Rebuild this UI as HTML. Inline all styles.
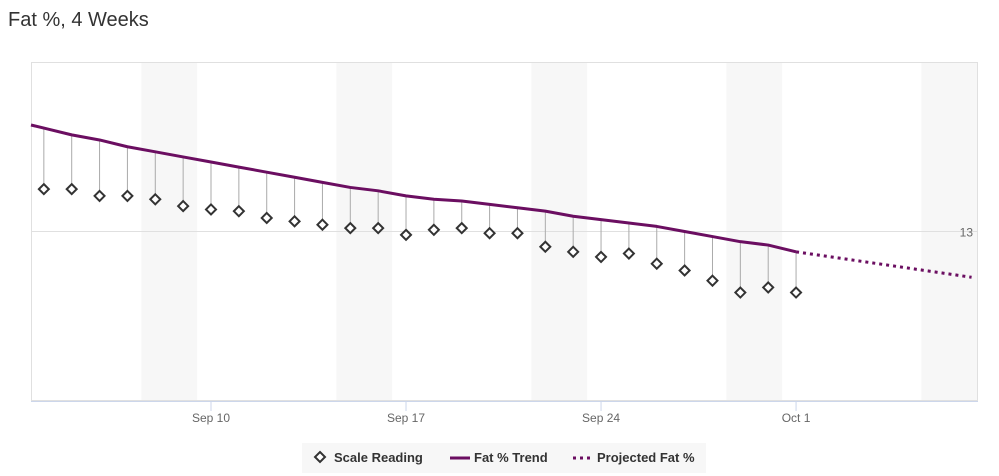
<!DOCTYPE html>
<html><head><meta charset="utf-8">
<style>
body{margin:0;background:#fff;font-family:"Liberation Sans",sans-serif;}
#wrap{position:relative;width:999px;height:476px;overflow:hidden;}
</style></head>
<body>
<div id="wrap">
<svg id="chart" width="999" height="476" xmlns="http://www.w3.org/2000/svg">
<text x="8" y="26" font-size="20" fill="#333" font-family="Liberation Sans, sans-serif">Fat %, 4 Weeks</text>
</svg>
</div>
<script>
const readingDays = [4,5,6,7,8,9,10,11,12,13,14,15,16,17,18,19,20,21,22,23,24,25,26,27,28,29,30,31];
const readingValues = [13.25,13.25,13.21,13.21,13.19,13.15,13.13,13.12,13.08,13.06,13.04,13.02,13.02,12.98,13.01,13.02,12.99,12.99,12.91,12.88,12.85,12.87,12.81,12.77,12.71,12.64,12.67,12.64];
const trendValues = [13.61,13.57,13.54,13.50,13.47,13.44,13.41,13.38,13.35,13.32,13.29,13.26,13.24,13.21,13.19,13.18,13.16,13.14,13.12,13.09,13.07,13.05,13.03,13.00,12.97,12.94,12.92,12.88];
const projDays = [31,37.3];
const projValues = [12.88,12.73];
const tickDays = [10,17,24,31];
const tickLabels = ["Sep 10","Sep 17","Sep 24","Oct 1"];
const bandStarts = [7.5,14.5,21.5,28.5,35.5];
const yTicks = [13];

const L=31,R=978,T=62,B=401;
const dayPx=27.86;
function xs(d){return 211+(d-10)*dayPx;}
function ys(v){return B-(v-12)/2*(B-T);}
const svg=document.getElementById('chart');
const NS='http://www.w3.org/2000/svg';
function mk(tag,attrs,name){const e=document.createElementNS(NS,tag);for(const k in attrs)e.setAttribute(k,attrs[k]);


svg.appendChild(e);return e;}
// bands
bandStarts.forEach(s=>{const x0=Math.max(L,xs(s)),x1=Math.min(R,xs(s+2));mk('rect',{x:x0,y:T,width:x1-x0,height:B-T,fill:'#f7f7f7'},'weekend-band');});
mk('rect',{x:L+0.5,y:T+0.5,width:R-L-1,height:B-T-1,fill:'none',stroke:'#e0e0e0'},'plot-border');
yTicks.forEach(v=>{mk('line',{x1:L,x2:R,y1:ys(v),y2:ys(v),stroke:'#e0e0e0'},'y-gridline');
const t=mk('text',{x:973,y:ys(v)+5,'text-anchor':'end','font-size':12,fill:'#666'},'y-tick-label');t.textContent=v;});
mk('line',{x1:L,x2:R,y1:B+0.5,y2:B+0.5,stroke:'#ccd6eb'},'x-axis-line');
tickDays.forEach((d,i)=>{mk('line',{x1:xs(d),x2:xs(d),y1:B,y2:B+10,stroke:'#ccd6eb'},'x-tick');
const t=mk('text',{x:xs(d),y:422,'text-anchor':'middle','font-size':12,fill:'#666'},'x-tick-label');t.textContent=tickLabels[i];});
// stems
readingDays.forEach((d,i)=>{mk('line',{x1:xs(d),x2:xs(d),y1:ys(trendValues[i]),y2:ys(readingValues[i]),stroke:'#aaa','stroke-width':1},'reading-stem');});
// trend
let pts=readingDays.map((d,i)=>xs(d)+','+ys(trendValues[i]));
pts.unshift(L+','+ys(trendValues[0]+(trendValues[0]-trendValues[1])*(readingDays[0]-(L-211)/dayPx-10)));
mk('polyline',{points:pts.join(' '),fill:'none',stroke:'#6b0e61','stroke-width':3,'stroke-linejoin':'round'},'trend-line');
mk('polyline',{points:projDays.map((d,i)=>xs(d)+','+ys(projValues[i])).join(' '),fill:'none',stroke:'#6b0e61','stroke-width':3,'stroke-dasharray':'3,4'},'projection-line');
readingDays.forEach((d,i)=>{const x=xs(d),y=ys(readingValues[i]);
mk('path',{d:`M${x} ${y-5}L${x+5} ${y}L${x} ${y+5}L${x-5} ${y}Z`,fill:'#fff',stroke:'#333','stroke-width':2},'scale-reading-point');});
// legend
mk('rect',{x:302,y:443,width:404,height:30,fill:'#f7f7f7'},'legend');
mk('path',{d:'M320 452L325 457L320 462L315 457Z',fill:'#fff',stroke:'#333','stroke-width':2},'legend-scale-icon');
let t=mk('text',{x:334,y:462,'font-size':13,'font-weight':'bold',fill:'#333'},'legend-scale-reading');t.textContent='Scale Reading';
mk('line',{x1:450,x2:470,y1:458,y2:458,stroke:'#6b0e61','stroke-width':3},'legend-trend-icon');
t=mk('text',{x:474,y:462,'font-size':13,'font-weight':'bold',fill:'#333'},'legend-fat-trend');t.textContent='Fat % Trend';
mk('line',{x1:573,x2:593,y1:458,y2:458,stroke:'#6b0e61','stroke-width':3,'stroke-dasharray':'3,4'},'legend-projected-icon');
t=mk('text',{x:597,y:462,'font-size':13,'font-weight':'bold',fill:'#333'},'legend-projected');t.textContent='Projected Fat %';
</script>
</body></html>
